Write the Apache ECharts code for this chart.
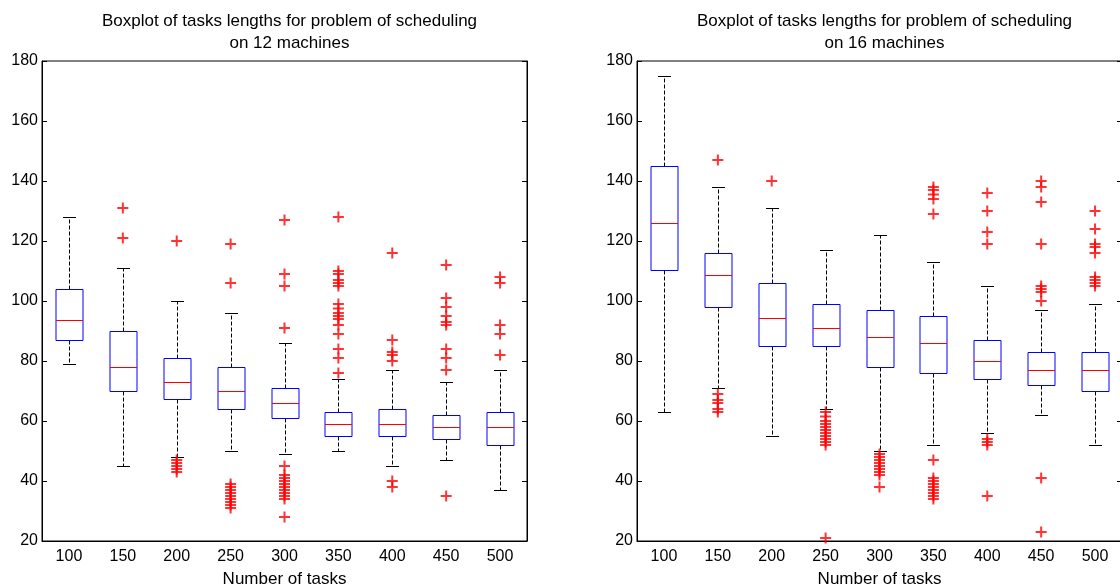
<!DOCTYPE html>
<html>
<head>
<meta charset="utf-8">
<script src="https://cdn.jsdelivr.net/npm/echarts@6/dist/echarts.min.js"></script>
<style>
html,body{margin:0;padding:0;background:#fff;}
#chart{width:1120px;height:588px;}
</style>
</head>
<body>
<div id="chart"></div>
<script>
const categories = ['100','150','200','250','300','350','400','450','500'];
const yTicks = [20, 180, 20]; // min, max, interval

// [lower whisker, q1, median, q3, upper whisker]
const stats12 = [
  [79, 87, 93.6, 104, 128],
  [45, 70, 78, 90, 111],
  [48, 67.5, 73, 81, 100],
  [50, 64, 70, 78, 96],
  [49, 61, 66, 71, 86],
  [50, 55, 59, 63, 74],
  [45, 55, 59, 64, 77],
  [47, 54, 58, 62, 73],
  [37, 52, 58, 63, 77]
];
const outliers12 = [
  [],
  [131, 121],
  [120, 47, 46, 45, 44, 43],
  [119, 106, 39, 38, 37, 36, 35, 34, 33, 32, 31],
  [127, 109, 105, 91, 45, 42, 41, 40, 39, 38, 37, 36, 35, 34, 28],
  [128, 110, 109, 107, 106, 105, 99, 97.5, 96, 95, 94, 92, 89, 84, 81, 76],
  [116, 87, 83, 82, 80, 40, 38],
  [112, 101, 98, 95, 93, 92, 84, 81, 77, 35],
  [108, 106, 92, 89, 82]
];

const stats16 = [
  [63, 110.5, 126, 145, 175],
  [71, 98, 108.7, 116, 138],
  [55, 85, 94.5, 106, 131],
  [64, 85, 91, 99, 117],
  [50, 78, 88, 97, 122],
  [52, 76, 86, 95, 113],
  [56, 74, 80, 87, 105],
  [62, 72, 77, 83, 97],
  [52, 70, 77, 83, 99]
];
const outliers16 = [
  [],
  [147, 69, 67, 66, 64, 63],
  [140],
  [63, 61.5, 60, 59, 58, 57, 56, 55, 54, 53, 52, 21],
  [49, 48, 47, 46, 45, 44, 43, 42, 38],
  [138, 137, 135.5, 134, 129, 47, 41, 40, 39, 38, 37, 36, 35, 34],
  [136, 130, 123, 119, 54, 53, 52, 35],
  [140, 138, 133, 119, 105, 104, 103, 100, 41, 23],
  [130, 124, 119, 118, 116, 108, 107, 106, 105]
];

const titles = [
  'Boxplot of tasks lengths for problem of scheduling\non 12 machines',
  'Boxplot of tasks lengths for problem of scheduling\non 16 machines'
];
const xName = 'Number of tasks';

const FONT = '"Liberation Sans", Arial, Helvetica, sans-serif';
const PLUS = 'path://M4.5,0H6.5V4.5H11V6.5H6.5V11H4.5V6.5H0V4.5H4.5Z';

function boxRender(params, api) {
  const i = api.value(0);
  const pMin = api.coord([i, api.value(1)]);
  const pQ1 = api.coord([i, api.value(2)]);
  const pMed = api.coord([i, api.value(3)]);
  const pQ3 = api.coord([i, api.value(4)]);
  const pMax = api.coord([i, api.value(5)]);
  const band = api.size([1, 0])[0];
  const x = Math.round(pMed[0]) + 0.5;
  const bw = Math.round(band * 0.5);
  const cw = Math.round(band * 0.25);
  const r = v => Math.round(v) + 0.5;
  const dash = { stroke: '#000', lineWidth: 1, lineDash: [4, 2] };
  return {
    type: 'group',
    children: [
      { type: 'line', shape: { x1: x, y1: r(pQ3[1]), x2: x, y2: r(pMax[1]) }, style: dash },
      { type: 'line', shape: { x1: x, y1: r(pQ1[1]), x2: x, y2: r(pMin[1]) }, style: dash },
      { type: 'line', shape: { x1: x - cw / 2, y1: r(pMax[1]), x2: x + cw / 2, y2: r(pMax[1]) }, style: { stroke: '#000', lineWidth: 1 } },
      { type: 'line', shape: { x1: x - cw / 2, y1: r(pMin[1]), x2: x + cw / 2, y2: r(pMin[1]) }, style: { stroke: '#000', lineWidth: 1 } },
      { type: 'rect', shape: { x: x - bw / 2, y: r(pQ3[1]), width: bw, height: r(pQ1[1]) - r(pQ3[1]) }, style: { fill: 'none', stroke: '#0000ff', lineWidth: 1 } },
      { type: 'line', shape: { x1: x - bw / 2, y1: r(pMed[1]), x2: x + bw / 2, y2: r(pMed[1]) }, style: { stroke: '#ff0000', lineWidth: 1 } }
    ]
  };
}

function boxData(stats) { return stats.map((s, i) => [i].concat(s)); }
function outData(outs) {
  const d = [];
  outs.forEach((arr, i) => arr.forEach(v => d.push([i, v])));
  return d;
}

const grids = [
  { left: 42, top: 61, width: 485, height: 480 },
  { left: 637, top: 61, width: 485, height: 480 }
];

const option = {
  animation: false,
  backgroundColor: '#fff',
  title: [0, 1].map(k => ({
    text: titles[k],
    left: grids[k].left + grids[k].width / 2,
    top: 5,
    textAlign: 'center',
    textStyle: { fontFamily: FONT, fontSize: 17, fontWeight: 'normal', color: '#000', lineHeight: 22 }
  })),
  grid: grids.map(g => Object.assign({ show: true, borderColor: '#000', borderWidth: 1, backgroundColor: 'transparent', containLabel: false, outerBoundsMode: 'none' }, g)),
  xAxis: [0, 1].map(k => ({
    type: 'category',
    gridIndex: k,
    data: categories,
    boundaryGap: true,
    name: xName,
    nameLocation: 'middle',
    nameGap: 30,
    nameTextStyle: { fontFamily: FONT, fontSize: 17, color: '#000' },
    axisLine: { show: true, lineStyle: { color: '#000', width: 1 } },
    axisTick: { show: false },
    axisLabel: { fontFamily: FONT, fontSize: 16, color: '#000', margin: 8 },
    splitLine: { show: false }
  })),
  yAxis: [0, 1, 0, 1].map((k, j) => ({
    type: 'value',
    gridIndex: k,
    position: j < 2 ? 'left' : 'right',
    min: yTicks[0],
    max: yTicks[1],
    interval: yTicks[2],
    axisLine: { show: true, lineStyle: { color: '#000', width: 1 } },
    axisTick: { show: true, inside: true, length: 5, lineStyle: { color: '#000' } },
    axisLabel: { show: j < 2, fontFamily: FONT, fontSize: 16, color: '#000', margin: 4 },
    splitLine: { show: false }
  })),
  series: [
    {
      type: 'custom', xAxisIndex: 0, yAxisIndex: 0,
      renderItem: boxRender, data: boxData(stats12),
      encode: { x: 0, y: [1, 2, 3, 4, 5] }, z: 2
    },
    {
      type: 'custom', xAxisIndex: 1, yAxisIndex: 1,
      renderItem: boxRender, data: boxData(stats16),
      encode: { x: 0, y: [1, 2, 3, 4, 5] }, z: 2
    },
    {
      type: 'scatter', xAxisIndex: 0, yAxisIndex: 0,
      symbol: PLUS, symbolSize: 11,
      itemStyle: { color: '#ff0000' },
      data: outData(outliers12), z: 3
    },
    {
      type: 'scatter', xAxisIndex: 1, yAxisIndex: 1,
      symbol: PLUS, symbolSize: 11,
      itemStyle: { color: '#ff0000' },
      data: outData(outliers16), z: 3
    }
  ]
};

const chart = echarts.init(document.getElementById('chart'), null, { renderer: 'canvas' });
chart.setOption(option);
</script>
</body>
</html>
